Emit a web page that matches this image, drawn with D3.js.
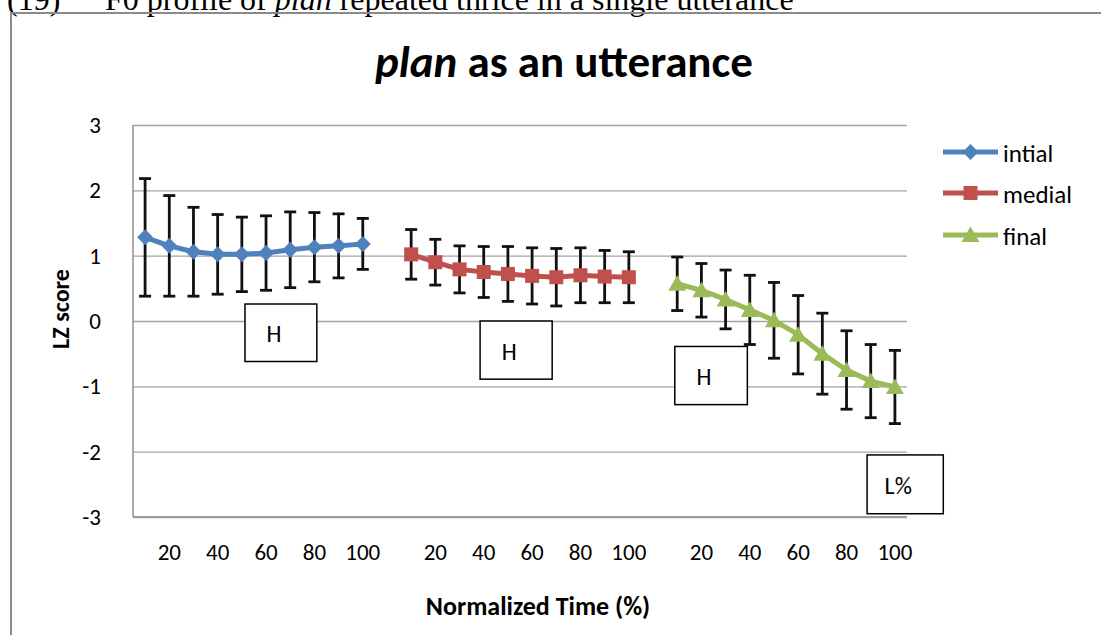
<!DOCTYPE html>
<html>
<head>
<meta charset="utf-8">
<script src="https://cdn.jsdelivr.net/npm/d3@7"></script>
<style>
  html, body { margin: 0; padding: 0; background: #fff; }
  svg { display: block; }
</style>
</head>
<body>
<svg id="chart" width="1101" height="635"></svg>
<script>
// Normalized time points within each repetition of "plan"
const timePoints = ["10", "20", "30", "40", "50", "60", "70", "80", "90", "100"];
const positions = ["intial", "medial", "final"];

// LZ score means and error bar half-lengths for each position
const intialMean = [1.28, 1.15, 1.06, 1.02, 1.02, 1.04, 1.09, 1.13, 1.15, 1.18];
const intialErr  = [0.90, 0.77, 0.68, 0.61, 0.57, 0.57, 0.58, 0.53, 0.49, 0.39];
const medialMean = [1.02, 0.90, 0.79, 0.75, 0.72, 0.69, 0.67, 0.70, 0.68, 0.67];
const medialErr  = [0.38, 0.35, 0.36, 0.39, 0.42, 0.43, 0.44, 0.42, 0.40, 0.39];
const finalMean  = [0.57, 0.47, 0.33, 0.17, 0.01, -0.21, -0.50, -0.75, -0.92, -1.01];
const finalErr   = [0.41, 0.41, 0.45, 0.53, 0.58, 0.60, 0.62, 0.60, 0.56, 0.56];

const yTicks = [-3, -2, -1, 0, 1, 2, 3];
const xTickLabels = ["20", "40", "60", "80", "100"];

// Tone labels placed over each repetition
const toneLabels = ["H", "H", "H", "L%"];

const colors = { intial: "#4F81BD", medial: "#C0504D", final: "#9BBB59" };
const FONT = "Carlito, Calibri, Lato, sans-serif";

const seriesData = [
  { name: "intial", mean: intialMean, err: intialErr },
  { name: "medial", mean: medialMean, err: medialErr },
  { name: "final",  mean: finalMean,  err: finalErr }
];

// One category slot per time point, with an empty slot between repetitions
const slots = [];
positions.forEach((p, k) => {
  timePoints.forEach(t => slots.push(p + "|" + t));
  if (k < positions.length - 1) slots.push("gap|" + k);
});

const svg = d3.select("#chart");
const plot = { left: 133, right: 907, top: 125, bottom: 517 };

const x = d3.scaleBand().domain(slots).range([plot.left, plot.right]).padding(0);
const y = d3.scaleLinear().domain([-3, 3]).range([plot.bottom, plot.top]);
const cx = key => x(key) + x.bandwidth() / 2;

// Page header line above the chart frame
const header = svg.append("text")
  .attr("y", 10)
  .attr("font-family", "'Liberation Serif', 'Times New Roman', serif")
  .attr("font-size", 32)
  .attr("fill", "#000");
header.append("tspan").attr("x", 7).text("(19)");
header.append("tspan").attr("x", 105).text("F0 profile of ");
header.append("tspan").attr("font-style", "italic").text("plan");
header.append("tspan").text(" repeated thrice in a single utterance");

// Chart frame
svg.append("rect")
  .attr("x", 11).attr("y", 13)
  .attr("width", 1200).attr("height", 700)
  .attr("fill", "none")
  .attr("stroke", "#8a8a8a")
  .attr("stroke-width", 2);

// Title
const title = svg.append("text")
  .attr("x", 564).attr("y", 77)
  .attr("text-anchor", "middle")
  .attr("font-family", FONT)
  .attr("font-weight", "bold")
  .attr("font-size", 45)
  .attr("fill", "#000");
title.append("tspan").attr("font-style", "italic").text("plan");
title.append("tspan").text(" as an utterance");

// Horizontal gridlines
svg.append("g")
  .attr("transform", `translate(${plot.left},0)`)
  .call(d3.axisLeft(y).tickValues(yTicks).tickSize(-(plot.right - plot.left)).tickFormat(""))
  .call(g => g.select(".domain").remove())
  .call(g => g.selectAll(".tick line").attr("stroke", "#a3a3a3").attr("stroke-width", 1.3));

// Vertical axis line
svg.append("line")
  .attr("x1", plot.left).attr("x2", plot.left)
  .attr("y1", y(3)).attr("y2", y(-3))
  .attr("stroke", "#8f8f8f").attr("stroke-width", 1.5);

// Bottom axis line
svg.append("line")
  .attr("x1", plot.left).attr("x2", plot.right)
  .attr("y1", y(-3)).attr("y2", y(-3))
  .attr("stroke", "#9a9a9a").attr("stroke-width", 2);

// Y tick labels
svg.append("g")
  .attr("transform", `translate(${plot.left},0)`)
  .call(d3.axisLeft(y).tickValues(yTicks).tickSize(0).tickPadding(32).tickFormat(d => String(d)))
  .call(g => g.select(".domain").remove())
  .call(g => g.selectAll("text")
    .attr("font-family", FONT).attr("font-size", 23).attr("fill", "#000"));

// X tick labels (every other time point)
svg.append("g")
  .attr("transform", `translate(0,${plot.bottom})`)
  .call(d3.axisBottom(x).tickSize(0).tickPadding(27)
    .tickFormat(d => {
      const t = d.split("|")[1];
      return d.startsWith("gap") ? "" : (xTickLabels.includes(t) ? t : "");
    }))
  .call(g => g.select(".domain").remove())
  .call(g => g.selectAll("text")
    .attr("font-family", FONT).attr("font-size", 23).attr("fill", "#000"));

// Axis titles
svg.append("text")
  .attr("x", 538).attr("y", 615)
  .attr("text-anchor", "middle")
  .attr("font-family", FONT).attr("font-weight", "bold").attr("font-size", 26)
  .attr("fill", "#000")
  .text("Normalized Time (%)");

svg.append("text")
  .attr("transform", "translate(69,309) rotate(-90)")
  .attr("text-anchor", "middle")
  .attr("font-family", FONT).attr("font-weight", "bold").attr("font-size", 24)
  .attr("fill", "#000")
  .text("LZ  score");

// Tone label boxes, placed in slot / value coordinates
const toneBoxes = [
  { slotFrom: 4.63, slotTo: 7.6,  top: 0.26,  bottom: -0.62 },
  { slotFrom: 14.35, slotTo: 17.33, top: 0.0, bottom: -0.89 },
  { slotFrom: 22.4, slotTo: 25.4, top: -0.39, bottom: -1.28 },
  { slotFrom: 30.35, slotTo: 33.5, top: -2.05, bottom: -2.95 }
];
const bw = x.bandwidth();
const boxG = svg.append("g");
toneBoxes.forEach((b, i) => {
  const x0 = plot.left + b.slotFrom * bw, x1 = plot.left + b.slotTo * bw;
  const y0 = y(b.top), y1 = y(b.bottom);
  boxG.append("rect")
    .attr("x", x0).attr("y", y0).attr("width", x1 - x0).attr("height", y1 - y0)
    .attr("fill", "#fff").attr("stroke", "#000").attr("stroke-width", 1.5);
  boxG.append("text")
    .attr("x", (x0 + x1) / 2 - 7).attr("y", (y0 + y1) / 2 + 1)
    .attr("text-anchor", "middle").attr("dominant-baseline", "central")
    .attr("font-family", FONT).attr("font-size", 24).attr("fill", "#000")
    .text(toneLabels[i]);
});

// Marker shapes
const markerPath = {
  intial: "M0,-8L8,0L0,8L-8,0Z",
  medial: "M-7,-7H7V7H-7Z",
  final: "M0,-8.5L9,7H-9Z"
};

// Error bars, then lines, then markers
seriesData.forEach(s => {
  const pts = s.mean.map((m, i) => ({ key: s.name + "|" + timePoints[i], m, e: s.err[i] }));
  const g = svg.append("g");

  const eb = g.append("g").selectAll("g").data(pts).join("g");
  eb.append("line")
    .attr("x1", d => cx(d.key)).attr("x2", d => cx(d.key))
    .attr("y1", d => y(d.m + d.e)).attr("y2", d => y(d.m - d.e))
    .attr("stroke", "#111").attr("stroke-width", 2.8);
  eb.append("line")
    .attr("x1", d => cx(d.key) - 6).attr("x2", d => cx(d.key) + 6)
    .attr("y1", d => y(d.m + d.e)).attr("y2", d => y(d.m + d.e))
    .attr("stroke", "#111").attr("stroke-width", 2.8);
  eb.append("line")
    .attr("x1", d => cx(d.key) - 6).attr("x2", d => cx(d.key) + 6)
    .attr("y1", d => y(d.m - d.e)).attr("y2", d => y(d.m - d.e))
    .attr("stroke", "#111").attr("stroke-width", 2.8);

  g.append("path")
    .datum(pts)
    .attr("fill", "none")
    .attr("stroke", colors[s.name])
    .attr("stroke-width", 5)
    .attr("stroke-linejoin", "round")
    .attr("d", d3.line().x(d => cx(d.key)).y(d => y(d.m)));

  g.append("g").selectAll("path").data(pts).join("path")
    .attr("transform", d => `translate(${cx(d.key)},${y(d.m)})`)
    .attr("d", markerPath[s.name])
    .attr("fill", colors[s.name]);
});

// Legend
const legendRows = [152, 193, 235];
const legend = svg.append("g");
positions.forEach((p, i) => {
  const ly = legendRows[i];
  legend.append("line")
    .attr("x1", 943).attr("x2", 998).attr("y1", ly).attr("y2", ly)
    .attr("stroke", colors[p]).attr("stroke-width", 5);
  legend.append("path")
    .attr("transform", `translate(970.5,${ly})`)
    .attr("d", markerPath[p])
    .attr("fill", colors[p]);
  legend.append("text")
    .attr("x", 1003).attr("y", ly + 1)
    .attr("dominant-baseline", "central")
    .attr("font-family", FONT).attr("font-size", 25).attr("fill", "#000")
    .text(p);
});
</script>
</body>
</html>
